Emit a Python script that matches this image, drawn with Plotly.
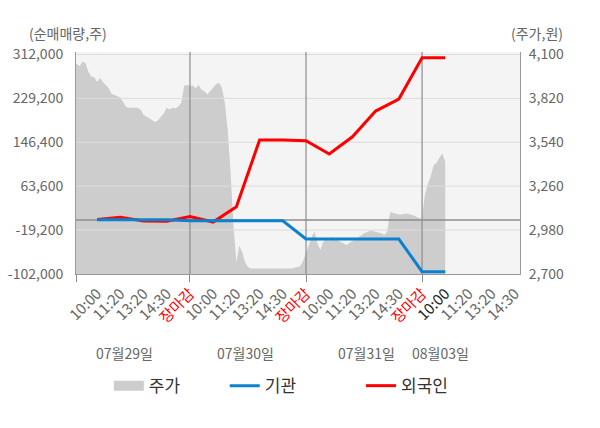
import plotly.graph_objects as go

FONT = "Noto Sans CJK KR"

# 주가(원): 하루를 40칸으로 나눈 시점별 가격
price_0729 = [4045, 4040, 4025, 4055, 4045, 3990, 3960, 3955, 3925, 3950,
              3925, 3905, 3885, 3850, 3840, 3835, 3825, 3795, 3765, 3760,
              3760, 3760, 3760, 3750, 3715, 3705, 3695, 3680, 3670, 3680,
              3705, 3725, 3760, 3750, 3760, 3755, 3770, 3790, 3900, 3905]
price_0730 = [3900, 3900, 3885, 3905, 3875, 3865, 3845, 3865, 3885, 3910,
              3920, 3890, 3795, 3620, 3350, 3010, 2775, 2880, 2840, 2775,
              2745, 2735, 2735, 2735, 2735, 2735, 2735, 2735, 2735, 2735,
              2735, 2735, 2735, 2735, 2735, 2735, 2740, 2745, 2750, 2785]
price_0731 = [2830, 2885, 2940, 2970, 2890, 2855, 2905, 2935, 2910, 2935,
              2925, 2915, 2905, 2900, 2885, 2900, 2910, 2925, 2935, 2945,
              2960, 2970, 2975, 2975, 2970, 2965, 2960, 2950, 2970, 3095,
              3090, 3085, 3080, 3080, 3085, 3085, 3080, 3075, 3065, 3055]
price_0803 = [3055, 3210, 3275, 3325, 3395, 3410, 3440, 3470, 3415]

# 순매매량(주): 시간대별 누적
slots = list(range(1, 17))
foreign = [1000, 4900, -2100, -2600, 6400, -4000, 24900, 150600,
           150600, 149300, 124200, 156800, 205300, 227900, 305700, 305700]
inst = [500, 500, 500, 500, -1500, -1500, -1500, -1500,
        -1500, -36000, -36000, -36000, -36000, -36000, -97600, -97600]

days = ["07월29일", "07월30일", "07월31일", "08월03일"]
day_label_x = [2.2, 7.4, 12.6, 15.8]
day_ends = [5, 10, 15]
times = ["10:00", "11:20", "13:20", "14:30", "장마감"]

vol_ticks = [312000, 229200, 146400, 63600, -19200, -102000]
price_ticks = [4100, 3820, 3540, 3260, 2980, 2700]

x_range = [0.09, 19.22]
price_range = [2700, 4116]
vol_range = [-102000, 316700]

# 가격 곡선의 x (하루 = 5칸)
px_x, px_y = [], []
for d, day_prices in enumerate([price_0729, price_0730, price_0731, price_0803]):
    for i, p in enumerate(day_prices):
        px_x.append(d * 5 + i * 0.125)
        px_y.append(p)

# 눈금 라벨
tickvals, ticktext = [], []
for d in range(4):
    for k, t in enumerate(times):
        if d == 3 and k == 4:
            break
        tickvals.append(d * 5 + k + 1)
        if t == "장마감":
            ticktext.append('<span style="color:#ff0000">장마감</span>')
        elif d == 3 and k == 0:
            ticktext.append('<span style="color:#222222">%s</span>' % t)
        else:
            ticktext.append(t)

fig = go.Figure()

fig.add_trace(go.Scatter(
    x=px_x, y=px_y, mode="lines", line=dict(width=0),
    fill="tozeroy", fillcolor="#cdcdcd", showlegend=False, hoverinfo="skip",
    xaxis="x", yaxis="y"))

# 그리드 (면 위에 그려지도록 trace 로)
gx, gy = [], []
for v in price_ticks[:-1]:
    gx += [x_range[0], x_range[1], None]
    gy += [v, v, None]
fig.add_trace(go.Scatter(x=gx, y=gy, mode="lines",
                         line=dict(color="#dcdcdc", width=1),
                         showlegend=False, hoverinfo="skip"))
vx, vy = [], []
for v in day_ends:
    vx += [v, v, None]
    vy += [price_range[0], price_range[1], None]
fig.add_trace(go.Scatter(x=vx, y=vy, mode="lines",
                         line=dict(color="#8c8c8c", width=1.2),
                         showlegend=False, hoverinfo="skip"))

fig.add_trace(go.Scatter(x=[None], y=[None], mode="lines", name="주가",
                         line=dict(color="#cdcdcd", width=14), legend="legend"))

fig.add_trace(go.Scatter(x=x_range, y=[0, 0], mode="lines",
                         line=dict(color="#8c8c8c", width=1.5),
                         showlegend=False, hoverinfo="skip",
                         xaxis="x2", yaxis="y2"))
fig.add_trace(go.Scatter(x=slots, y=foreign, mode="lines", name="외국인",
                         line=dict(color="#ff0000", width=3),
                         xaxis="x2", yaxis="y2", legend="legend3"))
fig.add_trace(go.Scatter(x=slots, y=inst, mode="lines", name="기관",
                         line=dict(color="#0a82cf", width=3),
                         xaxis="x2", yaxis="y2", legend="legend2"))

annotations = [
    dict(text="(순매매량,주)", xref="paper", yref="paper", x=-0.018, y=1.086,
         xanchor="center", yanchor="middle",
         showarrow=False, font=dict(size=14, color="#666666")),
    dict(text="(주가,원)", xref="paper", yref="paper", x=1.038, y=1.086,
         xanchor="center", yanchor="middle",
         showarrow=False, font=dict(size=14, color="#666666")),
]
for name, xv in zip(days, day_label_x):
    annotations.append(dict(text=name, xref="x", yref="paper", x=xv, y=-0.356,
                            xanchor="center", yanchor="middle",
                            showarrow=False, font=dict(size=14, color="#666666")))

legend_style = dict(orientation="h", yanchor="middle", y=-0.505, xanchor="left",
                    font=dict(size=17, color="#333333"), bgcolor="rgba(0,0,0,0)")

# 페이지 body 여백(8px)을 감안한 margin
fig.update_layout(
    width=600, height=428,
    margin=dict(l=68, r=88, t=44, b=162, autoexpand=False),
    paper_bgcolor="white", plot_bgcolor="#f4f4f4",
    font=dict(family=FONT, color="#666666"),
    xaxis=dict(range=x_range, tickmode="array", tickvals=tickvals, ticktext=ticktext,
               tickangle=-45, tickfont=dict(size=15, color="#666666"),
               ticks="outside", ticklen=4, tickcolor="rgba(0,0,0,0)", automargin=False,
               showgrid=False, zeroline=False, showline=True, linecolor="#999999"),
    xaxis2=dict(range=x_range, overlaying="x", anchor="y", side="bottom",
                tickmode="array", tickvals=[x_range[0]] + day_ends,
                ticks="outside", ticklen=7, tickcolor="#8c8c8c", automargin=False,
                showticklabels=False, showgrid=False, zeroline=False),
    yaxis=dict(range=price_range, side="right", tickmode="array",
               tickvals=price_ticks, ticktext=[f"{v:,}" for v in price_ticks],
               tickfont=dict(size=14, color="#666666"),
               ticks="outside", ticklen=5, tickcolor="rgba(0,0,0,0)", automargin=False,
               showgrid=False, zeroline=False, showline=True, linecolor="#999999"),
    yaxis2=dict(range=vol_range, side="left", overlaying="y", anchor="x",
                tickmode="array", tickvals=vol_ticks,
                ticktext=[f"{v:,}" for v in vol_ticks],
                tickfont=dict(size=14, color="#666666"), automargin=False,
                ticks="outside", ticklen=9, tickcolor="rgba(0,0,0,0)",
                showgrid=False, zeroline=False, showline=True, linecolor="#999999"),
    legend=dict(x=0.074, **legend_style),
    legend2=dict(x=0.335, **legend_style),
    legend3=dict(x=0.642, **legend_style),
    annotations=annotations,
)

fig.write_html("out.html")
